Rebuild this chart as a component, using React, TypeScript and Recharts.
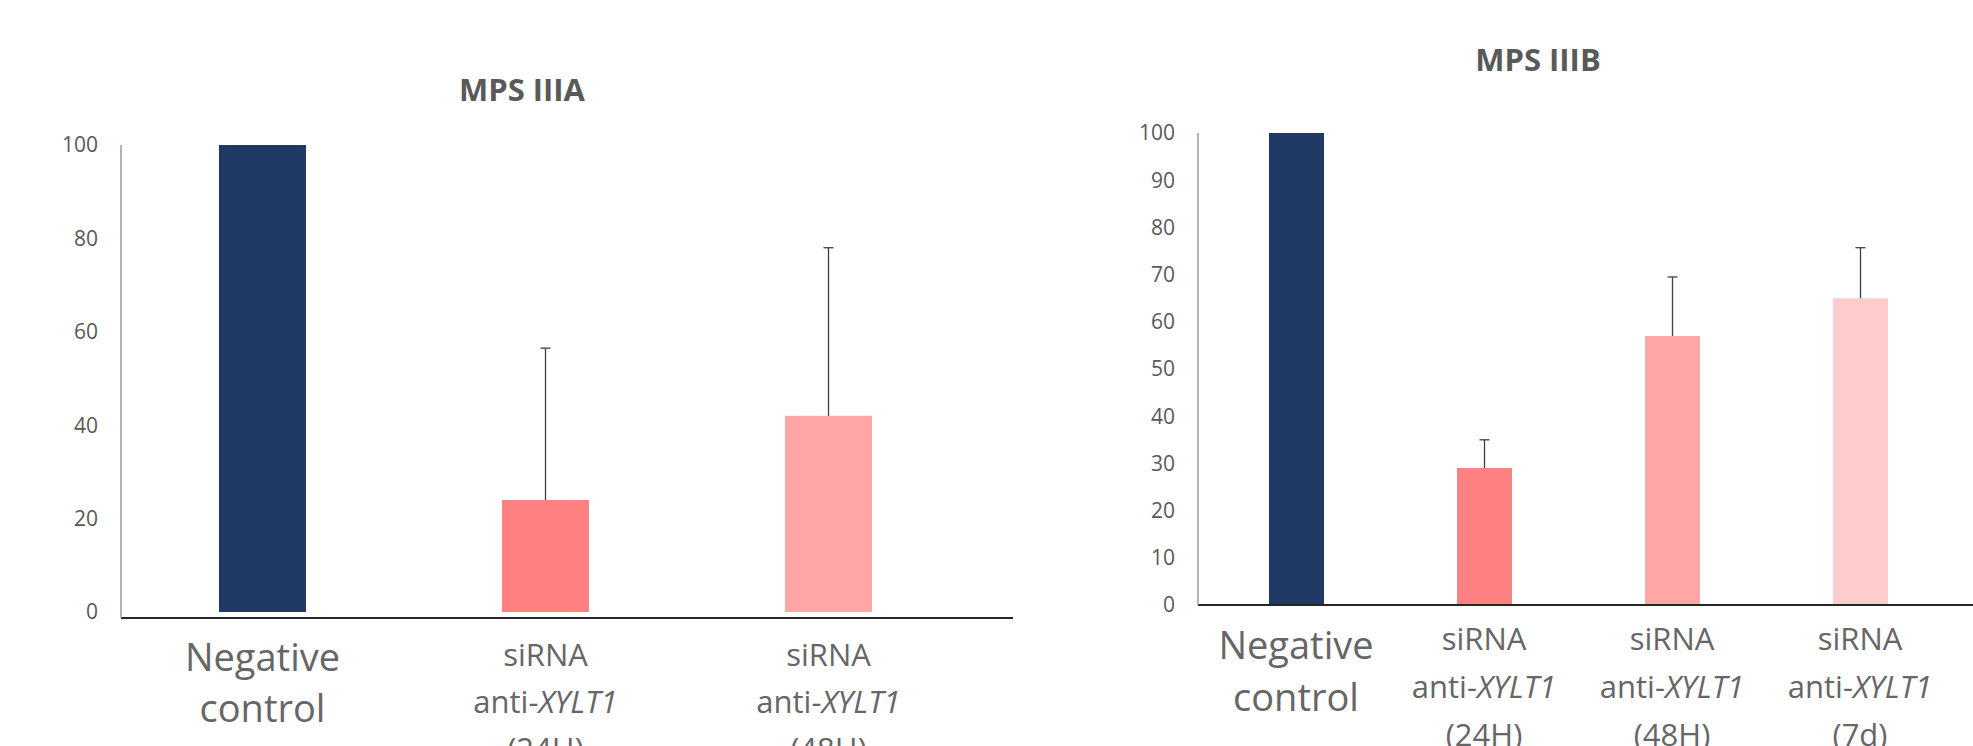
import React from "react";
import { BarChart, Bar, XAxis, YAxis, Cell, Rectangle } from "recharts";

const FONT = "'Open Sans', 'DejaVu Sans', sans-serif";

// MPS IIIA
const leftCategories = ["Negative control", "siRNA anti-XYLT1 (24H)", "siRNA anti-XYLT1 (48H)"];
const leftValues = [100, 24, 42];
const leftErrors = [0, 32.5, 36];
const leftTicks = [0, 20, 40, 60, 80, 100];
const leftColors = ["#203864", "#FF8080", "#FFA6A6"];

// MPS IIIB
const rightCategories = [
  "Negative control",
  "siRNA anti-XYLT1 (24H)",
  "siRNA anti-XYLT1 (48H)",
  "siRNA anti-XYLT1 (7d)",
];
const rightValues = [100, 29, 57, 65];
const rightErrors = [0, 6, 12.5, 10.7];
const rightTicks = [0, 10, 20, 30, 40, 50, 60, 70, 80, 90, 100];
const rightColors = ["#203864", "#FF8080", "#FFA6A6", "#FFCCCC"];

const toData = (cats: string[], vals: number[], errs: number[]) =>
  cats.map((name, i) => ({ name, value: vals[i], err: errs[i] }));

const leftData = toData(leftCategories, leftValues, leftErrors);
const rightData = toData(rightCategories, rightValues, rightErrors);

// bar + upper-only error whisker (Excel "plus" style), scaled from the bar's own pixel height
function BarWithError(props: any) {
  const { x, y, width, height, fill, payload } = props;
  const perUnit = payload.value ? height / payload.value : 0;
  const top = y - payload.err * perUnit;
  const cx = x + width / 2;
  return (
    <g>
      <Rectangle x={x} y={y} width={width} height={height} fill={fill} />
      {payload.err > 0 && (
        <g stroke="#404040" strokeWidth={1.3}>
          <line x1={cx} y1={y} x2={cx} y2={top} />
          <line x1={cx - 5} y1={top} x2={cx + 5} y2={top} />
        </g>
      )}
    </g>
  );
}

type TickOpts = { bigDy: number; bigGap: number; smallDy: number; smallGap: number };

function makeCategoryTick(opts: TickOpts) {
  return function CategoryTick(props: any) {
    const { x, y, payload } = props;
    const parts: string[] = String(payload.value).split(" ");
    const isSi = parts[0] === "siRNA";
    const size = isSi ? 31 : 38;
    const dy0 = isSi ? opts.smallDy : opts.bigDy;
    const gap = isSi ? opts.smallGap : opts.bigGap;
    return (
      <g>
        {parts.map((p, i) => (
          <text
            key={i}
            x={x}
            y={y + dy0 + i * gap}
            textAnchor="middle"
            fontSize={size}
            fill="#666666"
            fontFamily={FONT}
          >
            {p.startsWith("anti-") ? (
              <>
                <tspan>anti-</tspan>
                <tspan fontStyle="italic">{p.slice(5)}</tspan>
              </>
            ) : (
              p
            )}
          </text>
        ))}
      </g>
    );
  };
}

const leftTick = makeCategoryTick({ bigDy: 53, bigGap: 51, smallDy: 48, smallGap: 47 });
const rightTick = makeCategoryTick({ bigDy: 54, bigGap: 52, smallDy: 45, smallGap: 48 });

const yTickStyle = { fill: "#595959", fontSize: 21, fontFamily: FONT };

export default function App() {
  return (
    <div style={{ position: "relative", width: 1973, height: 746, background: "#fff", overflow: "hidden" }}>
      <style>{`body{margin:0;}`}</style>

      <div style={{ position: "absolute", left: 0, top: 0 }}>
        <BarChart
          width={1040}
          height={746}
          data={leftData}
          margin={{ top: 145, right: 27, bottom: 0, left: 0 }}
          barCategoryGap={0}
        >
          <XAxis
            dataKey="name"
            height={128}
            interval={0}
            tickLine={false}
            tickSize={0}
            tickMargin={0}
            padding={{ left: 0, right: 43 }}
            axisLine={{ stroke: "#262626", strokeWidth: 2 }}
            tick={leftTick}
          />
          <YAxis
            width={121}
            domain={[0, 100]}
            ticks={leftTicks}
            interval={0}
            tickLine={false}
            tickMargin={17}
            padding={{ top: 0, bottom: 6 }}
            axisLine={{ stroke: "#9a9a9a", strokeWidth: 1.5 }}
            tick={yTickStyle}
          />
          <Bar dataKey="value" barSize={87} isAnimationActive={false} shape={BarWithError}>
            {leftData.map((d, i) => (
              <Cell key={d.name} fill={leftColors[i]} />
            ))}
          </Bar>
        </BarChart>
      </div>

      <div style={{ position: "absolute", left: 1040, top: 0 }}>
        <BarChart
          width={933}
          height={746}
          data={rightData}
          margin={{ top: 133, right: 0, bottom: 0, left: 0 }}
          barCategoryGap={0}
        >
          <XAxis
            dataKey="name"
            height={141}
            interval={0}
            tickLine={false}
            tickSize={0}
            tickMargin={0}
            padding={{ left: 4, right: 19 }}
            axisLine={{ stroke: "#262626", strokeWidth: 2 }}
            tick={rightTick}
          />
          <YAxis
            width={158}
            domain={[0, 100]}
            ticks={rightTicks}
            interval={0}
            tickLine={false}
            tickMargin={17}
            axisLine={{ stroke: "#9a9a9a", strokeWidth: 1.5 }}
            tick={yTickStyle}
          />
          <Bar dataKey="value" barSize={55} isAnimationActive={false} shape={BarWithError}>
            {rightData.map((d, i) => (
              <Cell key={d.name} fill={rightColors[i]} />
            ))}
          </Bar>
        </BarChart>
      </div>

      <svg
        width={1973}
        height={746}
        style={{ position: "absolute", left: 0, top: 0, pointerEvents: "none" }}
      >
        <text x={522} y={101} textAnchor="middle" fontSize={31} fontWeight="bold" fill="#595959" fontFamily={FONT}>
          MPS IIIA
        </text>
        <text x={1538} y={71} textAnchor="middle" fontSize={31} fontWeight="bold" fill="#595959" fontFamily={FONT}>
          MPS IIIB
        </text>
      </svg>
    </div>
  );
}
